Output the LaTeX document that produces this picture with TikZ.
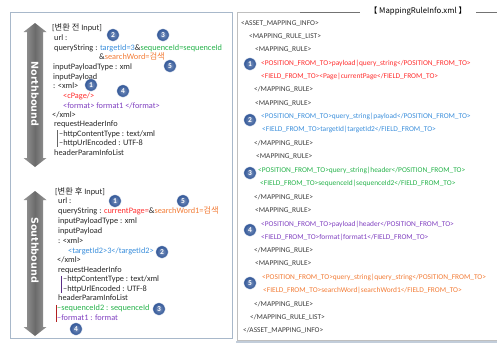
\documentclass[tikz,border=0pt]{standalone}
\usepackage{fontspec}
\setmainfont{Carlito}
\newfontfamily\krfont{Noto Sans CJK KR}
\newfontfamily\boldfont{DejaVu Sans}
\usetikzlibrary{positioning}

\definecolor{cred}{HTML}{FF2D2D}
\definecolor{cblue}{HTML}{3A8EDB}
\definecolor{cgreen}{HTML}{25B24A}
\definecolor{cpurple}{HTML}{8040C0}
\definecolor{corange}{HTML}{F27B35}
\definecolor{numblue}{HTML}{2F5597}
\definecolor{txtgray}{HTML}{3C3C3C}
\definecolor{boxline}{HTML}{A8B8CA}

\tikzset{
  txt/.style={anchor=west, inner sep=0pt, text height=5.5pt, text depth=1.5pt,
    text=black!85, font=\fontsize{8.3}{9}\selectfont},
  rtxt/.style={txt, text=txtgray, font=\fontsize{7.4}{8}\selectfont},
  num/.style={circle, inner color=numblue!65!white, outer color=numblue, draw=white,
    line width=0.4pt, text=white, inner sep=0pt, minimum size=12.5pt,
    font=\fontsize{7.5}{7.5}\selectfont\bfseries},
  bigarrow/.style={left color=black!40, right color=black!40, middle color=black!58},
  arrowlabel/.style={rotate=-90, text=white, font=\boldfont\bfseries\fontsize{9.6}{10}\selectfont},
}

\begin{document}
\begin{tikzpicture}[x=1pt, y=-1pt]
  \useasboundingbox (0,0) rectangle (497,343);

  % panels
  \draw[boxline, line width=0.8pt] (10,12) rectangle (232,338);
  \draw[black!25, line width=0.6pt] (497,12) -- (237,12) -- (237,340) -- (497,340);
  \draw[boxline!70, line width=2pt] (236,342) -- (497,342);
  \draw[black!55, line width=0.6pt] (300,12) -- (497,12);
  \node[fill=white, inner sep=0pt, minimum width=116pt, minimum height=9pt,
    font=\krfont\fontsize{7.8}{8}\selectfont] (title) at (418,11.5) {【 MappingRuleInfo.xml 】};

  % northbound / southbound
  \shade[bigarrow] (27,32) -- (23.5,32) -- (35,23) -- (46.5,32) -- (43,32) -- (43,158)
    -- (46.5,158) -- (35,167) -- (23.5,158) -- (27,158) -- cycle;
  \node[arrowlabel] (north) at (35,94) {Northbound};
  \shade[bigarrow] (27,200) -- (23.5,200) -- (35,191) -- (46.5,200) -- (43,200) -- (43,327)
    -- (46.5,327) -- (35,336) -- (23.5,327) -- (27,327) -- cycle;
  \node[arrowlabel] (south) at (35,250) {Southbound};

  % input before
  \node[txt] (b0) at (52,28) {[{\krfont 변환 전} Input]};
  \node[txt] (b1) at (54,38.5) {url :};
  \node[txt] (b2) at (54,48) {queryString : \textcolor{cblue}{targetId=3}\&\textcolor{cgreen}{sequenceId=sequenceId}};
  \node[txt] (b3) at (99,57.5) {\&\textcolor{corange}{searchWord={\krfont 검색}}};
  \node[txt] (b4) at (53,67) {inputPayloadType : xml};
  \node[txt] (b5) at (53,77) {inputPayload};
  \node[txt] (b6) at (53,86) {: <xml>};
  \node[txt, text=cred] (b7) at (63,96.5) {<cPage/>};
  \node[txt, text=cpurple] (b8) at (63,106) {<format> format1 </format>};
  \node[txt] (b9) at (52,115) {</xml>};
  \node[txt] (b10) at (54,124.5) {requestHeaderInfo};
  \node[txt] (b11) at (59,134) {--httpContentType : text/xml};
  \node[txt] (b12) at (59,143.5) {--httpUrlEncoded : UTF-8};
  \node[txt] (b13) at (54,153) {headerParamInfoList};
  \draw[black!60, line width=0.6pt] ([xshift=-1.5pt]b11.north west) -- ([xshift=-1.5pt]b12.south west);

  % input after
  \node[txt] (a0) at (55,192) {[{\krfont 변환 후} Input]};
  \node[txt] (a1) at (58,201.5) {url :};
  \node[txt] (a2) at (58,211) {queryString : \textcolor{cred}{currentPage=}\&\textcolor{corange}{searchWord1={\krfont 검색}}};
  \node[txt] (a3) at (58,221) {inputPayloadType : xml};
  \node[txt] (a4) at (58,231) {inputPayload};
  \node[txt] (a5) at (58,241) {: <xml>};
  \node[txt, text=cblue] (a6) at (68,251) {<targetId2>3</targetId2>};
  \node[txt] (a7) at (57,260.5) {</xml>};
  \node[txt] (a8) at (58,270) {requestHeaderInfo};
  \node[txt] (a9) at (63,279.5) {--httpContentType : text/xml};
  \node[txt] (a10) at (63,289) {--httpUrlEncoded : UTF-8};
  \node[txt] (a11) at (58,298.5) {headerParamInfoList};
  \node[txt, text=cgreen] (a12) at (57,308.5) {--sequenceId2 : sequenceId};
  \node[txt, text=cpurple] (a13) at (57,318) {--format1 : format};
  \draw[cpurple!70!black, line width=0.6pt] ([xshift=-1.5pt]a9.north west) -- ([xshift=-1.5pt]a10.south west);
  \draw[cred!70!black, line width=0.6pt] ([xshift=-1pt]a12.north west) -- ([xshift=-1pt]a13.south west);

  % mapping rules
  \node[rtxt] (m0) at (241,23) {<ASSET\_MAPPING\_INFO>};
  \node[rtxt] (m1) at (249,36) {<MAPPING\_RULE\_LIST>};
  \node[rtxt] (r1) at (255,49) {<MAPPING\_RULE>};
  \node[rtxt, text=cred] (p1) at (261,63) {<POSITION\_FROM\_TO>payload|query\_string</POSITION\_FROM\_TO>};
  \node[rtxt, text=cred] (f1) at (261,76) {<FIELD\_FROM\_TO><Page|currentPage</FIELD\_FROM\_TO>};
  \node[rtxt] (e1) at (254,89.5) {</MAPPING\_RULE>};
  \node[rtxt] (r2) at (255,103) {<MAPPING\_RULE>};
  \node[rtxt, text=cblue] (p2) at (261,116) {<POSITION\_FROM\_TO>query\_string|payload</POSITION\_FROM\_TO>};
  \node[rtxt, text=cblue] (f2) at (262,129.5) {<FIELD\_FROM\_TO>targetId|targetId2</FIELD\_FROM\_TO>};
  \node[rtxt] (e2) at (254,143) {</MAPPING\_RULE>};
  \node[rtxt] (r3) at (256,156.5) {<MAPPING\_RULE>};
  \node[rtxt, text=cgreen] (p3) at (258,170.5) {<POSITION\_FROM\_TO>query\_string|header</POSITION\_FROM\_TO>};
  \node[rtxt, text=cgreen] (f3) at (260,183.5) {<FIELD\_FROM\_TO>sequenceId|sequenceId2</FIELD\_FROM\_TO>};
  \node[rtxt] (e3) at (254,197) {</MAPPING\_RULE>};
  \node[rtxt] (r4) at (255,210) {<MAPPING\_RULE>};
  \node[rtxt, text=cpurple] (p4) at (261,224) {<POSITION\_FROM\_TO>payload|header</POSITION\_FROM\_TO>};
  \node[rtxt, text=cpurple] (f4) at (261,237) {<FIELD\_FROM\_TO>format|format1</FIELD\_FROM\_TO>};
  \node[rtxt] (e4) at (254,250.5) {</MAPPING\_RULE>};
  \node[rtxt] (r5) at (255,263.5) {<MAPPING\_RULE>};
  \node[rtxt, text=corange] (p5) at (262,277) {<POSITION\_FROM\_TO>query\_string|query\_string</POSITION\_FROM\_TO>};
  \node[rtxt, text=corange] (f5) at (263,290.5) {<FIELD\_FROM\_TO>searchWord|searchWord1</FIELD\_FROM\_TO>};
  \node[rtxt] (e5) at (254,304) {</MAPPING\_RULE>};
  \node[rtxt] (m2) at (250,317.5) {</MAPPING\_RULE\_LIST>};
  \node[rtxt] (m3) at (243,330.5) {</ASSET\_MAPPING\_INFO>};

  % numbers
  \node[num] (nb2) at (113,35) {2};
  \node[num] (nb3) at (163,35) {3};
  \node[num] (nb5) at (170,66) {5};
  \node[num] (nb1) at (91,85) {1};
  \node[num] (nb4) at (123,91) {4};
  \node[num] (na1) at (115,201) {1};
  \node[num] (na5) at (183,201) {5};
  \node[num] (na2) at (162,252) {2};
  \node[num] (na3) at (159,309) {3};
  \node[num] (na4) at (76,329) {4};
  \node[num] (nm1) at (250,64) {1};
  \node[num] (nm2) at (250,120) {2};
  \node[num] (nm3) at (250,173) {3};
  \node[num] (nm4) at (250,230) {4};
  \node[num] (nm5) at (250,283) {5};
\end{tikzpicture}
\end{document}
